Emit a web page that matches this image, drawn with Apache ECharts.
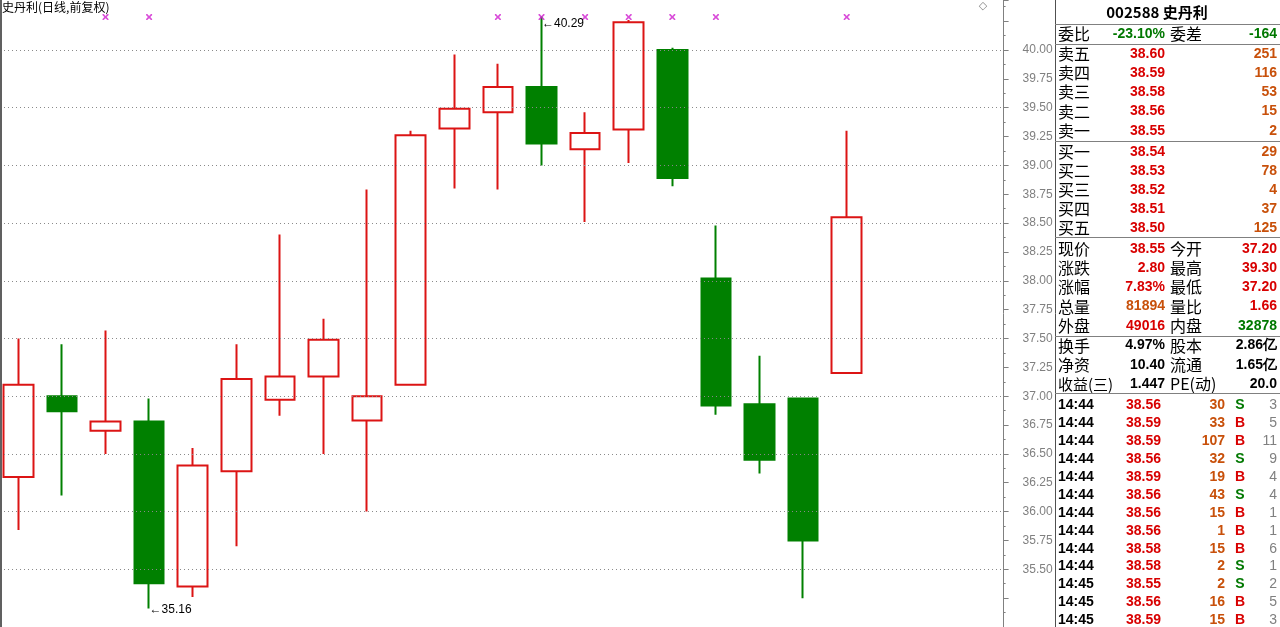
<!DOCTYPE html>
<html><head><meta charset="utf-8">
<script src="https://cdn.jsdelivr.net/npm/echarts@6/dist/echarts.min.js"></script>
<style>html,body{margin:0;padding:0;background:#fff;overflow:hidden}#c{width:1280px;height:627px}</style>
</head><body><div id="c"></div>
<script>
// ---------- chart data ----------
const categories = ['D01','D02','D03','D04','D05','D06','D07','D08','D09','D10','D11','D12','D13','D14','D15','D16','D17','D18','D19','D20','P1','P2','P3'];
const opens  = [36.30,37.00,36.70,36.78,35.35,36.35,36.97,37.17,36.79,37.10,39.32,39.46,39.68,39.14,39.31,40.00,38.02,36.93,36.98,37.20];
const closes = [37.10,36.87,36.78,35.38,36.40,37.15,37.17,37.49,37.00,39.26,39.49,39.68,39.19,39.28,40.24,38.89,36.92,36.45,35.75,38.55];
const lows   = [35.84,36.14,36.50,35.16,35.26,35.70,36.83,36.50,36.00,37.10,38.80,38.79,39.00,38.51,39.02,38.82,36.84,36.33,35.25,37.20];
const highs  = [37.50,37.45,37.57,36.98,36.55,37.45,38.40,37.67,38.79,39.30,39.96,39.88,40.29,39.46,40.26,40.02,38.48,37.35,36.98,39.30];
const markerFlags = [0,0,1,1,0,0,0,0,0,0,0,1,1,1,1,1,1,0,0,1];
const labelRange = [35.5, 40.0];
const chartTitle = '史丹利(日线,前复权)';

// ---------- side panel data ----------
const panelTitle = '002588 史丹利';
const wbRow = ['委比','-23.10%','委差','-164'];
const sellLabels = ['卖五','卖四','卖三','卖二','卖一'];
const sellPrices = ['38.60','38.59','38.58','38.56','38.55'];
const sellVols   = ['251','116','53','15','2'];
const buyLabels  = ['买一','买二','买三','买四','买五'];
const buyPrices  = ['38.54','38.53','38.52','38.51','38.50'];
const buyVols    = ['29','78','4','37','125'];
const quoteLabels1 = ['现价','涨跌','涨幅','总量','外盘'];
const quoteValues1 = ['38.55','2.80','7.83%','81894','49016'];
const quoteLabels2 = ['今开','最高','最低','量比','内盘'];
const quoteValues2 = ['37.20','39.30','37.20','1.66','32878'];
const finLabels1 = ['换手','净资','收益(三)'];
const finValues1 = ['4.97%','10.40','1.447'];
const finLabels2 = ['股本','流通','PE(动)'];
const finValues2 = ['2.86亿','1.65亿','20.0'];
const tradeTimes  = ['14:44','14:44','14:44','14:44','14:44','14:44','14:44','14:44','14:44','14:44','14:45','14:45','14:45'];
const tradePrices = ['38.56','38.59','38.59','38.56','38.59','38.56','38.56','38.56','38.58','38.58','38.55','38.56','38.59'];
const tradeVols   = ['30','33','107','32','19','43','15','1','15','2','2','16','15'];
const tradeSides  = ['S','B','B','S','B','S','B','B','B','S','S','B','B'];
const tradeCounts = ['3','5','11','9','4','4','1','1','6','1','2','5','3'];

// ---------- styles ----------
const RED = '#d80000', ORANGE = '#c8500a', GREEN = '#007800', GRAY = '#808080', BLACK = '#000000';
const UP = '#dc1414', DOWN = '#008000';
const CN = '16px "Noto Sans CJK SC"';
const NUM = 'bold 14px "Liberation Sans"';
const NUMN = '14px "Liberation Sans"';

const G = [];
function txt(x, y, t, fill, font, align) {
  G.push({type:'text', silent:true, z:100, style:{x:x, y:y, text:t, fill:fill, font:font, textAlign:align||'left', textVerticalAlign:'middle'}});
}
function line(x1, y1, x2, y2, c, w) {
  G.push({type:'line', silent:true, z:100, shape:{x1:x1,y1:y1,x2:x2,y2:y2}, style:{stroke:c, lineWidth:w||1}});
}
const PL = 1058, V1 = 1165, L2 = 1170, V2 = 1277;

// frames
line(1055.5, 0, 1055.5, 627, '#505050', 1);
line(1, 0, 1, 627, '#606060', 2);
txt(2, 7, chartTitle, BLACK, '12px "Noto Sans CJK SC"');
txt(983, 6, '◇', GRAY, '11px "DejaVu Sans"', 'center');

// header
txt(1157, 12, panelTitle, BLACK, 'bold 15px "Noto Sans CJK SC"', 'center');
line(1055, 24.5, 1280, 24.5, GRAY);
txt(PL, 34, wbRow[0], BLACK, CN);
txt(V1, 34, wbRow[1], GREEN, NUM, 'right');
txt(L2, 34, wbRow[2], BLACK, CN);
txt(V2, 34, wbRow[3], GREEN, NUM, 'right');
line(1055, 44.5, 1280, 44.5, GRAY);
sellLabels.forEach((l, i) => {
  const y = 54 + i * 19.2;
  txt(PL, y, l, BLACK, CN);
  txt(V1, y, sellPrices[i], RED, NUM, 'right');
  txt(V2, y, sellVols[i], ORANGE, NUM, 'right');
});
line(1055, 141.5, 1280, 141.5, GRAY);
buyLabels.forEach((l, i) => {
  const y = 152 + i * 19;
  txt(PL, y, l, BLACK, CN);
  txt(V1, y, buyPrices[i], RED, NUM, 'right');
  txt(V2, y, buyVols[i], ORANGE, NUM, 'right');
});
line(1055, 237.5, 1280, 237.5, GRAY);
const q1Col = [RED, RED, RED, ORANGE, RED];
const q2Col = [RED, RED, RED, RED, GREEN];
quoteLabels1.forEach((l, i) => {
  const y = 249 + i * 19.2;
  txt(PL, y, l, BLACK, CN);
  txt(V1, y, quoteValues1[i], q1Col[i], NUM, 'right');
  txt(L2, y, quoteLabels2[i], BLACK, CN);
  txt(V2, y, quoteValues2[i], q2Col[i], NUM, 'right');
});
line(1055, 336.5, 1280, 336.5, GRAY);
finLabels1.forEach((l, i) => {
  const y = 345.5 + i * 19.2;
  txt(PL, y, l, BLACK, i === 2 ? '15px "Noto Sans CJK SC"' : CN);
  txt(V1, y, finValues1[i], BLACK, NUM, 'right');
  txt(L2, y, finLabels2[i], BLACK, CN);
  txt(V2, y, finValues2[i], BLACK, NUM, 'right');
});
line(1055, 393.5, 1280, 393.5, GRAY);
tradeTimes.forEach((t, i) => {
  const y = 405.5 + i * 17.9;
  txt(PL, y, t, BLACK, NUM);
  txt(1161, y, tradePrices[i], RED, NUM, 'right');
  txt(1225, y, tradeVols[i], ORANGE, NUM, 'right');
  txt(1240, y, tradeSides[i], tradeSides[i] === 'B' ? RED : GREEN, NUM, 'center');
  txt(V2, y, tradeCounts[i], GRAY, NUMN, 'right');
});

// ---------- chart ----------
const kData = opens.map((o, i) => [o, closes[i], lows[i], highs[i]]);
const hiIdx = highs.indexOf(Math.max(...highs));
const loIdx = lows.indexOf(Math.min(...lows));
const MARK_LEVEL = 40.285;
const markerData = [];
markerFlags.forEach((f, i) => { if (f) markerData.push([i, MARK_LEVEL]); });

const chart = echarts.init(document.getElementById('c'), null, {renderer:'canvas'});
chart.setOption({
  animation: false,
  backgroundColor: '#ffffff',
  grid: {left: -3.5, right: 280.7, top: 0, bottom: 0, outerBoundsMode: 'none'},
  xAxis: {type:'category', data: categories, boundaryGap: true, show: false},
  yAxis: [
    {type:'value', position:'right', offset:4.3, min:35, max:40.433, interval:0.25,
     axisLine:{show:true, lineStyle:{color:GRAY, width:1}},
     axisTick:{show:true, length:5, lineStyle:{color:GRAY}},
     minorTick:{show:true, splitNumber:2, length:2, lineStyle:{color:GRAY}},
     axisLabel:{show:true, margin:19, color:GRAY, fontSize:12, fontFamily:'Liberation Sans', showMinLabel:false, showMaxLabel:false,
       formatter: v => (v >= labelRange[0] - 1e-6 && v <= labelRange[1] + 1e-6) ? v.toFixed(2) : ''},
     splitLine:{show:false}},
    {type:'value', position:'right', offset:4.3, min:35, max:40.433, interval:0.5,
     axisLine:{show:false}, axisTick:{show:false}, axisLabel:{show:false},
     splitLine:{show:false}}
  ],
  series: [
    {type:'candlestick', data: kData, barWidth: 30, yAxisIndex: 0,
     itemStyle:{color:'#ffffff', color0:DOWN, borderColor:UP, borderColor0:DOWN, borderWidth:2},
     emphasis:{disabled:true},
     markLine:{
       silent:true, symbol:['none','none'], animation:false, label:{show:false},
       lineStyle:{color:'#8a8a8a', type:[1,3], width:1},
       data:[35.5,36,36.5,37,37.5,38,38.5,39,39.5,40].map(v => [{x:0, yAxis:v}, {x:1004, yAxis:v}])
     },
     markPoint:{
       symbol:'circle', symbolSize:1, itemStyle:{color:'rgba(0,0,0,0)'}, silent:true, animation:false,
       data:[
         {coord:[hiIdx, highs[hiIdx]], value: highs[hiIdx],
          label:{show:true, position:'right', distance:0, offset:[0,7], color:BLACK, fontSize:12, fontFamily:'Liberation Sans',
            formatter: p => '←' + p.value.toFixed(2)}},
         {coord:[loIdx, lows[loIdx]], value: lows[loIdx],
          label:{show:true, position:'right', distance:0, offset:[0,1], color:BLACK, fontSize:12, fontFamily:'Liberation Sans',
            formatter: p => '←' + p.value.toFixed(2)}}
       ]
     }},
    {type:'scatter', data: markerData, yAxisIndex: 0, silent:true,
     symbol:'path://M0 0L2 0L5 3L8 0L10 0L10 2L7 5L10 8L10 10L8 10L5 7L2 10L0 10L0 8L3 5L0 2Z',
     symbolSize:6, itemStyle:{color:'#d020d0'}}
  ],
  graphic: G
});
</script>
</body></html>
